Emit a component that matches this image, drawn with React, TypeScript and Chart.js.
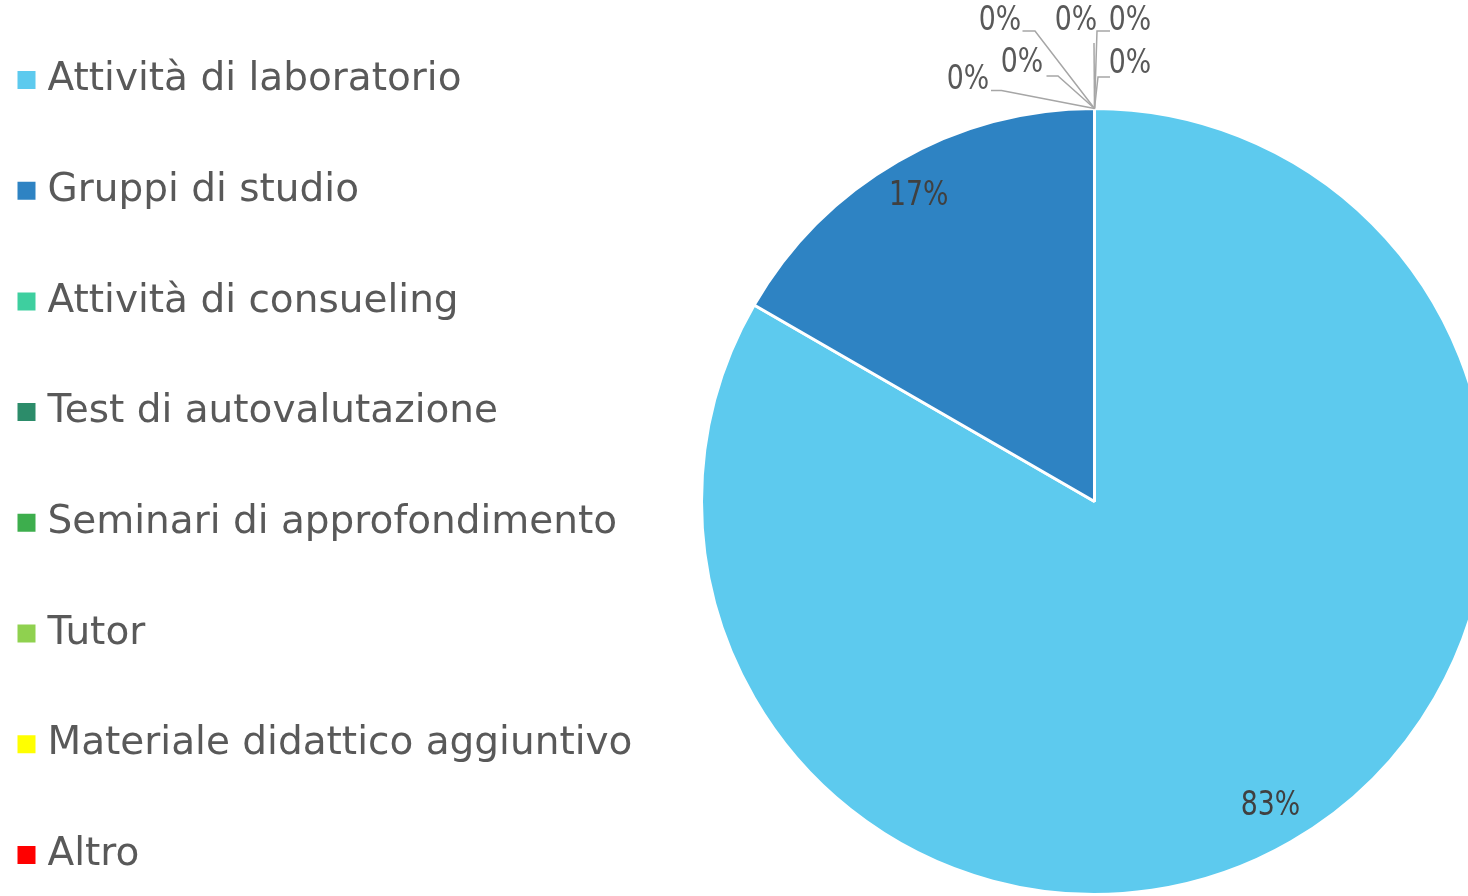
import React, { useEffect, useRef } from 'react';
import { Chart, registerables } from 'chart.js';

Chart.register(...registerables);

// ---- data ----
const categories = [
  'Attività di laboratorio',
  'Gruppi di studio',
  'Attività di consueling',
  'Test di autovalutazione',
  'Seminari di approfondimento',
  'Tutor',
  'Materiale didattico aggiuntivo',
  'Altro',
];
const responses = [5, 1, 0, 0, 0, 0, 0, 0];
const sliceColors = ['#5DCAEE', '#2E83C3', '#3ECF9F', '#2C8C6A', '#3DAE4D', '#8FD14F', '#FFFF00', '#FF0000'];

// ---- layout / style ----
const W = 1468;
const H = 896;
const PIE_CX = 1094.5;
const PIE_CY = 501.5;
const PIE_R = 393;
const LEGEND_FONT = 39;
const LEGEND_PAD = 71.7;
const LABEL_FONT = "'DejaVu Sans Condensed', 'DejaVu Sans', sans-serif";
const LABEL_SIZE = 33;
const LABEL_STRETCH = 0.9;

// placement of the "0%" labels relative to the slice anchor: text centre + leader elbow points
const zeroLabelLayout = [
  { text: [-126.5, -28.5], line: [[-103.5, -18], [-93, -18]] },
  { text: [-72.5, -45.5], line: [[-48, -32.5], [-36.5, -32.5]] },
  { text: [-94.5, -87.5], line: [[-72, -77.5], [-59.5, -77.5]] },
  { text: [-18.5, -87.5], line: [[-0.5, -65.5]] },
  { text: [35.5, -87.5], line: [[15.5, -77.5], [2.5, -77.5]] },
  { text: [35.5, -44.5], line: [[15.5, -31.5], [3.5, -31.5]] },
];

const pieLayoutPlugin = {
  id: 'pieLayout',
  afterLayout(chart: any) {
    const a = chart.chartArea;
    a.left = PIE_CX - PIE_R;
    a.right = PIE_CX + PIE_R;
    a.top = PIE_CY - PIE_R;
    a.bottom = PIE_CY + PIE_R;
    a.width = 2 * PIE_R;
    a.height = 2 * PIE_R;
  },
};

function drawLabel(ctx: CanvasRenderingContext2D, text: string, x: number, y: number, color: string) {
  ctx.save();
  ctx.translate(x, y);
  ctx.scale(LABEL_STRETCH, 1);
  ctx.fillStyle = color;
  ctx.fillText(text, 0, 0);
  ctx.restore();
}

const sliceLabelsPlugin = {
  id: 'sliceLabels',
  afterDatasetsDraw(chart: any) {
    const ctx = chart.ctx as CanvasRenderingContext2D;
    const meta = chart.getDatasetMeta(0);
    const data = chart.data.datasets[0].data as number[];
    const total = data.reduce((s, v) => s + v, 0);
    let z = 0;
    ctx.save();
    ctx.font = `${LABEL_SIZE}px ${LABEL_FONT}`;
    ctx.textAlign = 'center';
    ctx.textBaseline = 'middle';
    meta.data.forEach((arc: any, i: number) => {
      const { x, y, startAngle, endAngle, outerRadius } = arc.getProps(
        ['x', 'y', 'startAngle', 'endAngle', 'outerRadius'],
        true
      );
      const text = Math.round((data[i] / total) * 100) + '%';
      if (data[i] > 0) {
        const mid = (startAngle + endAngle) / 2;
        const r = outerRadius * 0.895;
        drawLabel(ctx, text, x + Math.cos(mid) * r, y + Math.sin(mid) * r, '#404040');
      } else {
        const ax = x + Math.cos(startAngle) * outerRadius;
        const ay = y + Math.sin(startAngle) * outerRadius;
        const L = zeroLabelLayout[z++ % zeroLabelLayout.length];
        ctx.strokeStyle = '#A6A6A6';
        ctx.lineWidth = 1.5;
        ctx.beginPath();
        ctx.moveTo(ax + L.line[0][0], ay + L.line[0][1]);
        for (let k = 1; k < L.line.length; k++) ctx.lineTo(ax + L.line[k][0], ay + L.line[k][1]);
        ctx.lineTo(ax, ay);
        ctx.stroke();
        drawLabel(ctx, text, ax + L.text[0], ay + L.text[1], '#595959');
      }
    });
    ctx.restore();
  },
};

export default function App() {
  const canvasRef = useRef<HTMLCanvasElement | null>(null);

  useEffect(() => {
    if (!canvasRef.current) return;
    const baseGenerate = (Chart as any).overrides.doughnut.plugins.legend.labels.generateLabels;
    const chart = new Chart(canvasRef.current, {
      type: 'doughnut',
      data: {
        labels: categories,
        datasets: [
          {
            data: responses,
            backgroundColor: sliceColors,
            borderColor: '#FFFFFF',
            borderWidth: 3,
          },
        ],
      },
      options: {
        responsive: false,
        animation: false,
        cutout: 0,
        radius: PIE_R,
        layout: { padding: { left: -46.7, right: 0, top: -20.55, bottom: -59.45 } },
        plugins: {
          tooltip: { enabled: false },
          legend: {
            position: 'left',
            align: 'center',
            labels: {
              font: { family: "'DejaVu Sans', sans-serif", size: LEGEND_FONT },
              color: '#595959',
              padding: LEGEND_PAD,
              usePointStyle: true,
              pointStyle: 'rect',
              boxWidth: 3,
              boxHeight: 18,
              generateLabels: (c: any) =>
                baseGenerate(c).map((it: any) => ({ ...it, lineWidth: 0, strokeStyle: 'rgba(0,0,0,0)', pointStyle: 'rect' })),
            },
          },
        },
      } as any,
      plugins: [pieLayoutPlugin, sliceLabelsPlugin],
    });
    return () => chart.destroy();
  }, []);

  return (
    <div style={{ position: 'absolute', left: 0, top: 0, width: W, height: H, overflow: 'hidden', background: '#fff' }}>
      <canvas ref={canvasRef} width={W} height={H} style={{ display: 'block' }} />
    </div>
  );
}
